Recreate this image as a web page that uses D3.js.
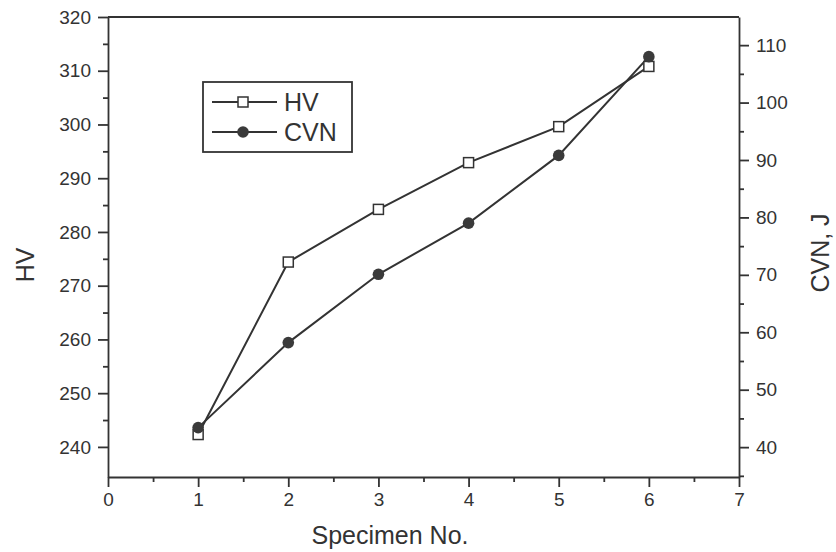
<!DOCTYPE html>
<html><head><meta charset="utf-8">
<script src="https://cdn.jsdelivr.net/npm/d3@7"></script>
<style>body{margin:0;background:#fff}svg{display:block}text{font-family:"Liberation Sans",Arial,sans-serif;fill:#333}</style>
</head><body><svg id="c" width="836" height="552"></svg>
<script>
const specimens = [1, 2, 3, 4, 5, 6];
const hv = [242.3, 274.4, 284.2, 292.9, 299.6, 310.8];
const cvn = [43.4, 58.2, 70.1, 79.0, 90.8, 108.0];
const xTicks = [0, 1, 2, 3, 4, 5, 6, 7];
const hvTicks = [240, 250, 260, 270, 280, 290, 300, 310, 320];
const cvnTicks = [40, 50, 60, 70, 80, 90, 100, 110];

const svg = d3.select("#c");
const L = 108, R = 739, T = 17, B = 477;
const ink = "#333";
const x = d3.scaleLinear().domain([0, 7]).range([L, R]);
const yL = d3.scaleLinear().domain([234.4, 320]).range([B, T]);
const yR = d3.scaleLinear().domain([34.8, 114.9]).range([B, T]);

function style(g, fs) {
  g.selectAll("path,line").attr("stroke", ink).attr("stroke-width", 1.8);
  g.selectAll("text").style("font-size", fs + "px").attr("fill", ink);
}
const FS = 19;
// minor ticks
const gxm = svg.append("g").attr("transform", `translate(0,${B})`)
  .call(d3.axisBottom(x).tickValues(d3.range(0.5, 7, 1)).tickSize(5).tickFormat(""));
style(gxm, FS); gxm.select(".domain").remove();
const gx = svg.append("g").attr("transform", `translate(0,${B})`)
  .call(d3.axisBottom(x).tickValues(xTicks).tickSize(10).tickSizeOuter(0).tickPadding(6).tickFormat(d3.format("d")));
style(gx, FS);

const glm = svg.append("g").attr("transform", `translate(${L},0)`)
  .call(d3.axisLeft(yL).tickValues(d3.range(245, 320, 10)).tickSize(5).tickFormat(""));
style(glm, FS); glm.select(".domain").remove();
const gl = svg.append("g").attr("transform", `translate(${L},0)`)
  .call(d3.axisLeft(yL).tickValues(hvTicks).tickSize(10).tickSizeOuter(0).tickPadding(7));
style(gl, FS);

const grm = svg.append("g").attr("transform", `translate(${R},0)`)
  .call(d3.axisRight(yR).tickValues(d3.range(35, 115, 10)).tickSize(5).tickFormat(""));
style(grm, FS); grm.select(".domain").remove();
const gr = svg.append("g").attr("transform", `translate(${R},0)`)
  .call(d3.axisRight(yR).tickValues(cvnTicks).tickSize(10).tickSizeOuter(0).tickPadding(7));
style(gr, FS);

// top frame
svg.append("line").attr("x1", L).attr("x2", R).attr("y1", T).attr("y2", T)
  .attr("stroke", ink).attr("stroke-width", 1.8);

// lines
const lineHV = d3.line().x((d, i) => x(specimens[i])).y(d => yL(d));
const lineCVN = d3.line().x((d, i) => x(specimens[i])).y(d => yR(d));
svg.append("path").attr("d", lineHV(hv)).attr("fill", "none").attr("stroke", ink).attr("stroke-width", 2);
svg.append("path").attr("d", lineCVN(cvn)).attr("fill", "none").attr("stroke", ink).attr("stroke-width", 2);
svg.selectAll(".hvm").data(hv).join("rect")
  .attr("x", (d, i) => x(specimens[i]) - 5).attr("y", d => yL(d) - 5)
  .attr("width", 10).attr("height", 10).attr("fill", "#fff").attr("stroke", ink).attr("stroke-width", 1.5);
svg.selectAll(".cvm").data(cvn).join("circle")
  .attr("cx", (d, i) => x(specimens[i])).attr("cy", d => yR(d)).attr("r", 5.8).attr("fill", "#3a3a3a");

// axis titles
svg.append("text").attr("x", 390).attr("y", 544).attr("text-anchor", "middle").attr("font-size", 25).text("Specimen No.");
svg.append("text").attr("transform", "translate(34,265) rotate(-90)").attr("text-anchor", "middle").attr("font-size", 25).text("HV");
svg.append("text").attr("transform", "translate(829,253) rotate(-90)").attr("text-anchor", "middle").attr("font-size", 25).text("CVN, J");

// legend
const lg = svg.append("g");
lg.append("rect").attr("x", 203).attr("y", 82).attr("width", 149).attr("height", 70)
  .attr("fill", "#fff").attr("stroke", ink).attr("stroke-width", 1.8);
[["HV", 102, "sq"], ["CVN", 132, "ci"]].forEach(([t, yy, m]) => {
  lg.append("line").attr("x1", 212).attr("x2", 277).attr("y1", yy).attr("y2", yy).attr("stroke", ink).attr("stroke-width", 2);
  if (m === "sq") lg.append("rect").attr("x", 238).attr("y", yy - 5).attr("width", 10).attr("height", 10).attr("fill", "#fff").attr("stroke", ink).attr("stroke-width", 1.5);
  else lg.append("circle").attr("cx", 243).attr("cy", yy).attr("r", 5.8).attr("fill", "#3a3a3a");
  lg.append("text").attr("x", 284).attr("y", yy + 9).attr("font-size", 25).text(t);
});
</script></body></html>
